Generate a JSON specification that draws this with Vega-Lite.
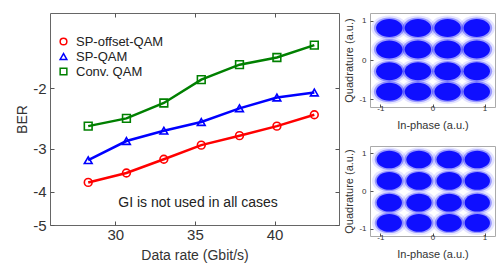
{
  "$schema": "https://vega.github.io/schema/vega-lite/v6.json",
  "padding": {"left": 15, "top": 12, "right": 0, "bottom": 0},
  "config": {
    "font": "Liberation Sans",
    "view": {"stroke": "#666666", "strokeWidth": 1},
    "axis": {"grid": false, "domain": false, "tickColor": "#555555", "labelColor": "#333333", "titleColor": "#333333", "titleFontWeight": "normal"}
  },
  "datasets": {
    "ber": [
      {"series": "SP-offset-QAM", "rate": 28.3, "ber": -3.76},
      {"series": "SP-offset-QAM", "rate": 30.7, "ber": -3.53},
      {"series": "SP-offset-QAM", "rate": 33.05, "ber": -3.22},
      {"series": "SP-offset-QAM", "rate": 35.4, "ber": -2.93},
      {"series": "SP-offset-QAM", "rate": 37.8, "ber": -2.75},
      {"series": "SP-offset-QAM", "rate": 40.15, "ber": -2.58},
      {"series": "SP-offset-QAM", "rate": 42.5, "ber": -2.39},
      {"series": "SP-QAM", "rate": 28.3, "ber": -3.24},
      {"series": "SP-QAM", "rate": 30.7, "ber": -2.85},
      {"series": "SP-QAM", "rate": 33.05, "ber": -2.66},
      {"series": "SP-QAM", "rate": 35.4, "ber": -2.51},
      {"series": "SP-QAM", "rate": 37.8, "ber": -2.29},
      {"series": "SP-QAM", "rate": 40.15, "ber": -2.13},
      {"series": "SP-QAM", "rate": 42.5, "ber": -2.06},
      {"series": "Conv. QAM", "rate": 28.3, "ber": -2.58},
      {"series": "Conv. QAM", "rate": 30.7, "ber": -2.45},
      {"series": "Conv. QAM", "rate": 33.05, "ber": -2.21},
      {"series": "Conv. QAM", "rate": 35.4, "ber": -1.89},
      {"series": "Conv. QAM", "rate": 37.8, "ber": -1.71},
      {"series": "Conv. QAM", "rate": 40.15, "ber": -1.63},
      {"series": "Conv. QAM", "rate": 42.5, "ber": -1.5}
    ],
    "top": [
      {"i": -0.83, "q": 0.82}, {"i": -0.28, "q": 0.82}, {"i": 0.29, "q": 0.82}, {"i": 0.85, "q": 0.82},
      {"i": -0.83, "q": 0.27}, {"i": -0.28, "q": 0.27}, {"i": 0.29, "q": 0.27}, {"i": 0.85, "q": 0.27},
      {"i": -0.83, "q": -0.29}, {"i": -0.28, "q": -0.29}, {"i": 0.29, "q": -0.29}, {"i": 0.85, "q": -0.29},
      {"i": -0.83, "q": -0.81}, {"i": -0.28, "q": -0.81}, {"i": 0.29, "q": -0.81}, {"i": 0.85, "q": -0.81}
    ],
    "bottom": [
      {"i": -0.83, "q": 0.84}, {"i": -0.26, "q": 0.84}, {"i": 0.32, "q": 0.84}, {"i": 0.86, "q": 0.84},
      {"i": -0.83, "q": 0.27}, {"i": -0.26, "q": 0.27}, {"i": 0.32, "q": 0.27}, {"i": 0.86, "q": 0.27},
      {"i": -0.83, "q": -0.31}, {"i": -0.26, "q": -0.31}, {"i": 0.32, "q": -0.31}, {"i": 0.86, "q": -0.31},
      {"i": -0.83, "q": -0.85}, {"i": -0.26, "q": -0.85}, {"i": 0.32, "q": -0.85}, {"i": 0.86, "q": -0.85}
    ]
  },
  "spacing": 3,
  "hconcat": [
    {
      "width": 289,
      "height": 212,
      "data": {"name": "ber"},
      "layer": [
        {
          "mark": {"type": "line", "strokeWidth": 2.5},
          "encoding": {
            "x": {"field": "rate", "type": "quantitative", "scale": {"domain": [25.9, 44.05], "nice": false, "zero": false},
              "axis": {"values": [30, 35, 40], "tickSize": -4, "labelFontSize": 15, "labelPadding": 6, "title": "Data rate (Gbit/s)", "titleFontSize": 14, "titlePadding": 6}},
            "y": {"field": "ber", "type": "quantitative", "scale": {"type": "log", "domain": [-5, -1.21], "nice": false},
              "axis": {"values": [-2, -3, -4, -5], "labelExpr": "'-' + (-datum.value)", "tickSize": -4, "labelFontSize": 15, "labelPadding": 8, "title": "BER", "titleFontSize": 14, "titlePadding": 3}},
            "color": {"field": "series", "type": "nominal", "scale": {"domain": ["SP-offset-QAM", "SP-QAM", "Conv. QAM"], "range": ["#ff0000", "#0000ff", "#008000"]}, "legend": null}
          }
        },
        {
          "mark": {"type": "point", "filled": false, "strokeWidth": 1.6, "size": 60, "opacity": 1},
          "encoding": {
            "x": {"field": "rate", "type": "quantitative", "axis": null},
            "y": {"field": "ber", "type": "quantitative", "axis": null},
            "color": {"field": "series", "type": "nominal", "scale": {"domain": ["SP-offset-QAM", "SP-QAM", "Conv. QAM"], "range": ["#ff0000", "#0000ff", "#008000"]},
              "legend": {"title": null, "orient": "none", "legendX": 7, "legendY": 22, "padding": 0, "labelFontSize": 13, "labelColor": "#222222", "symbolSize": 45, "symbolStrokeWidth": 1.5, "rowPadding": 1, "labelOffset": 6}},
            "shape": {"field": "series", "type": "nominal", "scale": {"domain": ["SP-offset-QAM", "SP-QAM", "Conv. QAM"], "range": ["circle", "triangle-up", "square"]},
              "legend": {"title": null, "orient": "none", "legendX": 7, "legendY": 22, "padding": 0, "labelFontSize": 13, "labelColor": "#222222", "symbolSize": 45, "symbolStrokeWidth": 1.5, "rowPadding": 1, "labelOffset": 6}}
          }
        },
        {
          "data": {"values": [{"rate": 35.2, "ber": -4.32, "label": "GI is not used in all cases"}]},
          "mark": {"type": "text", "fontSize": 14, "align": "center", "baseline": "middle", "color": "#222222"},
          "encoding": {
            "x": {"field": "rate", "type": "quantitative", "axis": {"orient": "top", "values": [30, 35, 40], "labels": false, "title": null, "tickSize": -4}},
            "y": {"field": "ber", "type": "quantitative", "axis": {"orient": "right", "values": [-2, -3, -4, -5], "labels": false, "title": null, "tickSize": -4}},
            "text": {"field": "label"}
          }
        }
      ],
      "resolve": {"axis": {"x": "independent", "y": "independent"}, "legend": {"color": "independent", "shape": "independent"}}
    },
    {
      "spacing": 14,
      "vconcat": [
        {
          "width": 125,
          "height": 94,
          "view": {"stroke": "#aaaaaa"},
          "data": {"name": "top"},
          "layer": [
            {"mark": {"type": "point", "filled": true, "shape": "M-1,0A1,0.68,0,1,0,1,0A1,0.68,0,1,0,-1,0Z", "size": 1300, "opacity": 0.12, "color": "#2020ff", "strokeWidth": 0}},
            {"mark": {"type": "point", "filled": true, "shape": "M-1,0A1,0.68,0,1,0,1,0A1,0.68,0,1,0,-1,0Z", "size": 950, "opacity": 0.35, "color": "#1010ff", "strokeWidth": 0}},
            {"mark": {"type": "point", "filled": true, "shape": "M-1,0A1,0.68,0,1,0,1,0A1,0.68,0,1,0,-1,0Z", "size": 700, "opacity": 0.9, "color": "#0000ff", "strokeWidth": 0}}
          ],
          "encoding": {
            "x": {"field": "i", "type": "quantitative", "scale": {"domain": [-1.2, 1.2], "nice": false}, "axis": {"values": [-1, 0, 1], "labelExpr": "datum.value < 0 ? '-' + (-datum.value) : '' + datum.value", "tickSize": -3, "labelFontSize": 8, "labelPadding": 0, "title": "In-phase (a.u.)", "titleFontSize": 11, "titlePadding": 7}},
            "y": {"field": "q", "type": "quantitative", "scale": {"domain": [-1.2, 1.2], "nice": false}, "axis": {"values": [-1, 0, 1], "labelExpr": "datum.value < 0 ? '-' + (-datum.value) : '' + datum.value", "tickSize": -3, "labelFontSize": 8, "labelPadding": 7, "title": "Quadrature (a.u.)", "titleFontSize": 11, "titlePadding": 4}}
          }
        },
        {
          "width": 125,
          "height": 90,
          "view": {"stroke": "#aaaaaa"},
          "data": {"name": "bottom"},
          "layer": [
            {"mark": {"type": "point", "filled": true, "shape": "M-1,0A1,0.7,0,1,0,1,0A1,0.7,0,1,0,-1,0Z", "size": 1200, "opacity": 0.12, "color": "#2020ff", "strokeWidth": 0}},
            {"mark": {"type": "point", "filled": true, "shape": "M-1,0A1,0.7,0,1,0,1,0A1,0.7,0,1,0,-1,0Z", "size": 850, "opacity": 0.35, "color": "#1010ff", "strokeWidth": 0}},
            {"mark": {"type": "point", "filled": true, "shape": "M-1,0A1,0.7,0,1,0,1,0A1,0.7,0,1,0,-1,0Z", "size": 640, "opacity": 0.9, "color": "#0000ff", "strokeWidth": 0}}
          ],
          "encoding": {
            "x": {"field": "i", "type": "quantitative", "scale": {"domain": [-1.2, 1.2], "nice": false}, "axis": {"values": [-1, 0, 1], "labelExpr": "datum.value < 0 ? '-' + (-datum.value) : '' + datum.value", "tickSize": -3, "labelFontSize": 8, "labelPadding": 0, "title": "In-phase (a.u.)", "titleFontSize": 11, "titlePadding": 7}},
            "y": {"field": "q", "type": "quantitative", "scale": {"domain": [-1.2, 1.2], "nice": false}, "axis": {"values": [-1, 0, 1], "labelExpr": "datum.value < 0 ? '-' + (-datum.value) : '' + datum.value", "tickSize": -3, "labelFontSize": 8, "labelPadding": 7, "title": "Quadrature (a.u.)", "titleFontSize": 11, "titlePadding": 4}}
          }
        }
      ]
    }
  ]
}
